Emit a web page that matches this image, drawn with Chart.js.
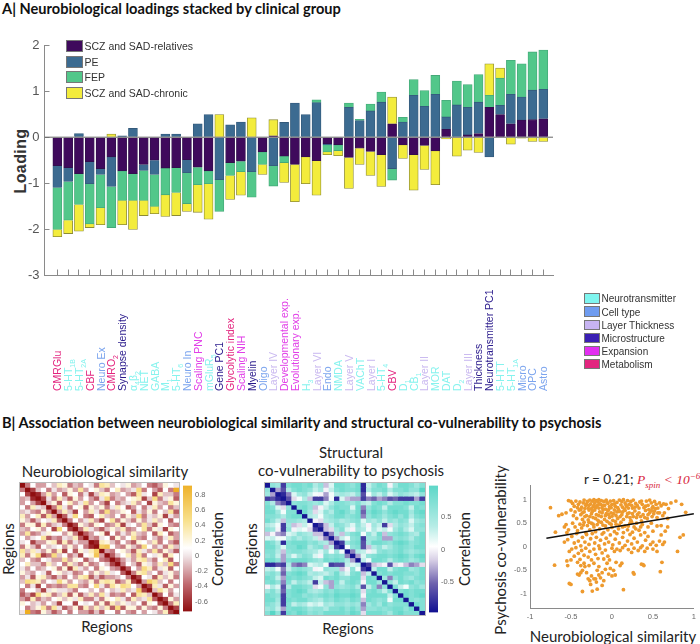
<!DOCTYPE html>
<html>
<head>
<meta charset="utf-8">
<script src="https://cdn.jsdelivr.net/npm/chart.js@4"></script>
<style>
  html, body { margin: 0; padding: 0; background: #fff; }
  #page { position: relative; width: 700px; height: 644px; overflow: hidden; font-family: "Liberation Sans", sans-serif; }
  canvas { position: absolute; }
  .t { position: absolute; white-space: nowrap; transform: translate(-50%, -50%); font-family: Lato, sans-serif; font-size: 15px; color: #222; }
  .r { transform: translate(-50%, -50%) rotate(-90deg); }
  .head { transform: translateY(-50%); font-weight: 700; font-size: 14.6px; color: #111; }
  .sw { position: absolute; box-sizing: border-box; border: 1px solid #777; }
  .lg { position: absolute; white-space: nowrap; transform: translateY(-50%); color: #333; }
</style>
</head>
<body>
<div id="page">
  <div class="t head" style="left:2px;top:8px">A| Neurobiological loadings stacked by clinical group</div>
  <div class="t head" style="left:2px;top:422px">B| Association between neurobiological similarity and structural co-vulnerability to psychosis</div>
  <div class="t r" style="left:21px;top:161px;font:700 16px 'Liberation Sans';letter-spacing:.4px;color:#333">Loading</div>

  <div class="t" style="left:105px;top:471px">Neurobiological similarity</div>
  <div class="t" style="left:107px;top:626px">Regions</div>
  <div class="t r" style="left:8px;top:549px">Regions</div>
  <div class="t r" style="left:217px;top:549px">Correlation</div>

  <div class="t" style="left:351px;top:452px">Structural</div>
  <div class="t" style="left:351px;top:470px">co-vulnerability to psychosis</div>
  <div class="t" style="left:348px;top:628px">Regions</div>
  <div class="t r" style="left:251px;top:549px">Regions</div>
  <div class="t r" style="left:464px;top:549px">Correlation</div>

  <div class="t r" style="left:500px;top:550px">Psychosis co-vulnerability</div>
  <div class="t" style="left:613px;top:636px">Neurobiological similarity</div>
  <div class="t" style="left:584px;top:480px;transform:translateY(-50%);font-size:13.5px">r = 0.21; <span style="color:#d81e3a;font-family:'Liberation Serif';font-style:italic">P<sub style="font-size:9px">spin</sub> &lt; 10<sup style="font-size:9px">−6</sup></span></div>
</div>
<script>
// A: loadings per tick, one value per clinical group
const tickLabels = ['CMRGlu','5-HT_1B','5-HT_2A','CBF','Neuro Ex','CMRO_2','Synapse density','α_4β_2','NET','GABA','M_1','5-HT_6','Neuro In','Scaling PNC','mGluR_5','Gene PC1','Glycolytic index','Scaling NIH','Myelin','Oligo','Layer IV','Developmental exp.','Evolutionary exp.','H_3','Layer VI','Endo','NMDA','Layer V','VAChT','Layer I','5-HT_4','CBV','D_1','CB_1','Layer II','MOR','DAT','D_2','Layer III','Thickness','Neurotransmitter PC1','5-HTT','5-HT_1A','Micro','OPC','Astro'];
const tickGroups = [5,0,0,5,1,5,3,0,0,0,0,0,1,4,0,3,5,4,3,1,2,4,4,0,2,1,0,2,0,2,0,5,0,0,2,0,0,0,2,3,3,0,0,1,1,1];

const relatives = [-.62,-.66,-.79,-.53,-.68,-.43,-.73,-.79,-.59,-.50,-.67,-.66,-.49,-.65,-.73,0,-.55,-.52,0,-.32,.03,-.41,-.59,-.43,-.51,-.14,-.16,-.44,-.24,-.31,-.38,.29,-.17,-.38,-.18,-.30,.17,0,.05,.08,.65,.49,.29,.37,.38,.40];
const pe = [-.47,-.30,.08,-.48,-.13,-.64,.03,.19,-.13,-.31,.07,.07,-.28,.29,.49,-.92,.27,.33,-.75,0,-.62,.32,.74,.49,.75,-.03,-.01,.65,.36,.57,.76,-.68,.33,.91,.67,.93,.27,.70,.60,.68,-.43,.20,.64,.50,.64,.64];
const fep = [-.91,-.84,-.67,-.87,-.72,-.89,-.64,-.58,-.65,-.69,-.58,-.54,-.67,-.38,-.28,-.69,-.28,-.23,-.55,-.27,-.44,-.14,0,0,.06,-.15,-.12,.09,.03,.15,.22,-.25,.10,.34,.34,.41,.36,.52,.49,.60,.26,.59,.74,.72,.83,.85];
const chronic = [-.16,-.29,-.58,-.08,-.37,.07,-.53,-.63,-.33,-.16,-.47,-.50,-.17,-.60,-.77,.49,-.52,-.51,.42,-.22,.35,-.43,-.81,-.58,-.75,-.06,-.11,-.67,-.35,-.52,-.69,.58,-.29,-.77,-.52,-.73,-.04,-.41,-.28,-.33,.68,.22,-.15,-.02,-.09,-.09];
const seriesNames = ['SCZ and SAD-relatives','PE','FEP','SCZ and SAD-chronic'];
const seriesColors = ['#3f0a5c','#3c6b91','#52c78a','#f3ec3c'];
const seriesBorders = ['#30104a','#33597a','#45a878','#8c8a35'];
const loadingTicks = [2,1,0,-1,-2,-3];

const groupNames = ['Neurotransmitter','Cell type','Layer Thickness','Microstructure','Expansion','Metabolism'];
const groupColors = ['#7ff5ef','#6f9cf0','#c7b4f2','#3a1fb4','#e22ef0','#e3257f'];
const groupText = ['#86f3ee','#7ba4ee','#c9b8f0','#2a1a8c','#e13fe8','#e3257f'];

// B: correlation matrices in tenths, upper triangle read row by row
const similarity = [
[-7,-3,1,-2,-2,1,-1,3,2,-3,-1,-2,1,0,-3,4,3,-1,1,0,2,-2,-1,1,-3,-4,-2,2,1,0],
[-7,-5,-1,1,-3,0,-2,-1,2,-2,4,-2,1,2,-1,-3,1,3,-2,-1,0,5,-3,1,-2,-4,1,-3],
[-7,-6,-2,3,-2,1,-4,2,1,-3,0,-5,-1,3,2,-2,-1,1,-2,-4,4,0,1,-5,3,-1,-1,-3],
[-7,-5,0,-3,3,-1,-4,2,-2,1,-2,-4,0,5,-3,-1,-2,1,2,3,-5,-1,5,-3,0,2,-4],
[-7,-1,2,-4,1,3,-2,0,4,-2,1,-2,-5,1,-3,-1,0,3,-2,1,-5,2,-1,-2,4,2],
[-7,-3,4,0,-3,1,2,-4,2,-1,2,-3,0,3,1,-4,-2,1,-3,0,3,-2,1,-3,-1],
[-7,-2,3,-1,-5,1,-2,3,0,-3,5,-2,-1,2,1,-4,0,-2,2,-3,1,-1,4,-4],
[-7,-4,0,5,1,-3,-4,1,3,-1,-2,1,-3,2,-1,5,-3,0,-1,2,-5,0,-2],
[-7,-3,1,-2,0,3,-2,-5,1,4,-3,2,-1,-3,2,-2,0,3,-1,1,-4,1],
[-7,-5,2,-1,-3,2,1,-3,-2,3,-5,0,1,-2,4,-1,-4,2,1,-2,-3],
[-7,-3,3,0,-2,-4,-1,2,-1,3,-3,-2,1,4,-3,2,0,-5,2,1],
[-7,-4,-2,1,2,-5,1,-3,0,-2,3,-1,-2,1,-4,3,1,-4,-2],
[-7,-2,-3,0,1,-4,2,-2,1,4,-2,-3,1,-1,-3,0,3,-2],
[-7,-6,3,2,-1,-3,1,-2,-4,2,1,-1,3,-3,1,-2,-4],
[-7,6,7,1,-2,-3,2,-1,-3,5,1,-2,0,-3,3,-1],
[-7,-2,-3,1,2,-1,-4,3,0,-2,4,-3,2,-1,-4],
[-7,-4,-1,1,3,-2,4,-3,1,0,2,-4,3,1],
[-7,-5,-2,0,-2,3,4,-1,-3,1,3,-4,1],
[-7,-3,1,-1,-4,2,0,-2,3,-1,5,-3],
[-7,-4,1,-2,5,3,-3,0,2,-4,1],
[-7,-3,3,4,-1,1,-3,0,2,-2],
[-7,-5,1,0,-4,3,-1,2,-3],
[-7,-2,6,4,-1,1,-3,1],
[-7,-5,3,0,-4,2,-2],
[-7,-1,4,2,-2,1],
[-7,-4,1,-3,0],
[-7,-5,2,-2],
[-7,-3,3],
[-7,-5],
[-7]];
const covulnerability = [
[-9,6,5,-7,7,8,8,7,8,4,6,-2,2,8,8,7,6,8,-8,3,6,8,7,0,5,8,8,7,5,7],
[-9,-3,-6,4,7,8,7,6,3,5,0,3,7,8,7,7,8,-8,4,7,7,8,4,7,7,8,6,6],
[-9,-8,-4,2,5,6,3,1,0,-3,1,4,5,4,3,6,-6,1,5,3,6,2,4,6,5,4,3,6],
[-9,-6,-1,1,4,-2,-7,-7,-4,1,-8,2,-2,-3,-3,-7,-4,-5,-3,-4,-6,-5,-7,-7,-7,-3,-7],
[-9,6,7,7,6,5,6,2,4,7,7,6,5,7,4,3,7,8,7,4,7,7,8,7,7,8],
[-9,7,8,6,-2,0,3,6,8,7,7,2,8,-4,6,8,7,3,8,8,8,7,3,8,7],
[-9,8,5,-1,2,6,4,8,9,7,5,8,-5,7,9,8,6,8,9,8,8,5,8,9],
[-9,4,3,1,5,6,8,8,6,7,8,-4,6,8,7,5,7,8,6,8,4,7,8],
[-9,0,-1,4,5,6,4,5,6,7,2,5,4,6,3,6,5,7,6,2,5,6],
[-9,-7,-2,3,7,6,4,2,6,3,0,5,3,-7,-1,4,6,5,3,6,7],
[-9,-2,-1,5,7,2,0,5,4,1,4,2,3,1,5,7,4,2,6,6],
[-9,-4,4,-2,5,7,8,1,6,3,8,-2,6,7,8,7,5,4,8],
[-9,-3,3,1,6,7,-7,5,5,7,-3,-3,6,7,6,4,7,8],
[-9,-7,5,7,8,-6,5,8,8,7,6,8,9,8,6,7,8],
[-9,1,6,7,-6,-2,4,6,3,5,7,8,7,6,8,8],
[-9,-4,4,3,0,2,6,7,6,7,8,6,5,6,7],
[-9,-3,2,6,7,8,8,7,8,9,8,6,8,9],
[-9,3,1,8,8,7,4,7,8,7,5,6,8],
[-9,-7,-2,-1,0,-6,-1,0,-2,-4,-3,-1],
[-9,3,8,8,3,7,8,8,5,6,8],
[-9,7,8,7,8,8,7,7,6,8],
[-9,5,-4,6,8,6,5,7,8],
[-9,6,3,8,7,8,6,7],
[-9,7,3,1,6,7,5],
[-9,7,8,7,8,8],
[-9,8,7,8,9],
[-9,7,6,7],
[-9,8,7],
[-9,7],
[-9]];
const similarityStops = [[-.73,'#8b0608'],[-.35,'#c06a70'],[0,'#f0e4e6'],[.1,'#ffffff'],[.45,'#f8e08c'],[.92,'#eeae22']];
const covulnerabilityStops = [[-.97,'#08088e'],[-.5,'#6e62ae'],[-.15,'#d8d0e6'],[.05,'#ffffff'],[.35,'#b6ece6'],[.99,'#58d6c6']];

// scatter: [similarity, co-vulnerability]
const regionPairs = [
[-.53,.98],[-.5,.96],[-.48,.92],[-.46,.86],[-.44,.97],[-.41,.9],[-.39,.95],[-.37,.84],[-.35,.93],[-.34,.99],[-.32,.88],[-.3,.96],[-.29,.82],[-.27,.99],[-.26,.91],[-.24,.97],[-.23,.85],[-.22,1],[-.21,.93],[-.19,.98],[-.18,.87],[-.17,.95],[-.16,1],[-.14,.9],[-.13,.98],[-.12,.83],[-.1,.96],[-.09,.88],[-.07,.99],[-.05,.92],[-.03,.85],[-.02,.97],[0,.9],[.02,.98],[.04,.86],[.06,.94],[.09,.99],[.11,.89],[.12,.96],[.14,1],[.16,.93],[.18,.85],[.19,.98],[.21,.9],[.23,.96],[.25,.82],[.26,.99],[.29,.92],[.31,.87],[.34,.95],[.37,.9],[.39,.83],[.42,.97],[.44,.88],[.46,.99],[.48,.93],[.5,.85],[.52,.96],[.54,.9],[.56,.82],[.58,.93],[.6,.87],[.63,.91],[.66,.9],[.69,.81],[.72,.93],[.78,.97],[.85,.9],
[-.56,.72],[-.5,.78],[-.47,.66],[-.45,.74],[-.43,.6],[-.4,.78],[-.38,.68],[-.36,.58],[-.34,.74],[-.31,.66],[-.29,.57],[-.28,.78],[-.25,.7],[-.23,.62],[-.21,.78],[-.19,.68],[-.17,.56],[-.15,.74],[-.13,.64],[-.11,.78],[-.09,.58],[-.07,.7],[-.05,.76],[-.03,.62],[-.01,.72],[.01,.56],[.03,.78],[.05,.66],[.07,.6],[.09,.75],[.12,.68],[.14,.58],[.16,.77],[.18,.64],[.21,.72],[.23,.56],[.25,.7],[.28,.76],[.3,.62],[.33,.72],[.36,.55],[.38,.68],[.41,.77],[.43,.6],[.46,.72],[.49,.64],[.52,.76],[.55,.62],[.58,.72],[.62,.66],[.64,.72],[.68,.6],
[-.42,.83],[-.38,.79],[-.33,.81],[-.31,.91],[-.28,.88],[-.25,.81],[-.22,.88],[-.2,.83],[-.16,.82],[-.15,.91],[-.11,.88],[-.08,.8],[-.06,.94],[-.04,.79],[-.01,.83],[.03,.91],[.07,.83],[.08,.79],[.13,.84],[.15,.8],[.17,.89],[.2,.82],[.24,.88],[.28,.84],[.33,.82],[.36,.97],[.41,.86],[.45,.79],[.49,.82],[.53,.81],[-.36,.72],[-.33,.64],[-.27,.64],[-.24,.75],[-.2,.6],[-.16,.66],[-.12,.72],[-.08,.66],[-.04,.68],[0,.65],[.02,.7],[.06,.74],[.1,.64],[.13,.74],[.19,.7],[.22,.62],[.26,.64],[.31,.68],[.35,.64],[.4,.62],[.44,.68],[.48,.76],[.51,.7],[.56,.72],
[-.35,.46],[-.28,.52],[-.23,.48],[-.16,.53],[-.11,.46],[-.06,.54],[-.01,.48],[.04,.54],[.09,.46],[.13,.42],[.2,.44],[.24,.52],[.29,.38],[.35,.42],
[-.58,.42],[-.56,.47],[-.53,.36],[-.48,.5],[-.45,.42],[-.42,.34],[-.39,.48],[-.37,.4],[-.34,.52],[-.32,.3],[-.3,.45],[-.27,.36],[-.25,.5],[-.22,.42],[-.2,.32],[-.18,.47],[-.15,.38],[-.13,.52],[-.1,.3],[-.08,.44],[-.05,.36],[-.03,.5],[0,.41],[.03,.32],[.05,.48],[.08,.38],[.11,.52],[.14,.3],[.16,.44],[.19,.36],[.22,.5],[.25,.31],[.27,.42],[.3,.5],[.33,.35],[.37,.47],[.4,.3],[.44,.42],[.48,.5],[.5,.33],[.55,.44],[.6,.45],[.65,.33],[.68,.42],
[-.55,.3],[-.58,.1],[-.54,.15],[-.49,.22],[-.46,.08],[-.43,.28],[-.41,.12],[-.38,.02],[-.36,.2],[-.33,.1],[-.31,.26],[-.28,.05],[-.26,.17],[-.24,.28],[-.21,.08],[-.19,.2],[-.16,.02],[-.14,.14],[-.12,.27],[-.09,.06],[-.07,.18],[-.04,.1],[-.02,.25],[.01,.04],[.04,.16],[.06,.28],[.09,.08],[.13,.2],[.16,.03],[.19,.12],[.22,.26],[.24,.06],[.27,.18],[.31,.1],[.35,.25],[.37,.02],[.41,.14],[.44,.22],[.47,.05],[.5,.1],[.54,.03],[.58,.12],[.6,.25],[.62,.05],[.64,.1],
[-.52,-.1],[-.49,-.05],[-.46,-.2],[-.44,-.02],[-.41,-.14],[-.39,-.27],[-.37,-.08],[-.34,-.18],[-.32,-.03],[-.29,-.22],[-.27,-.1],[-.25,-.28],[-.22,-.05],[-.2,-.16],[-.17,-.25],[-.15,-.04],[-.12,-.13],[-.1,-.26],[-.08,-.07],[-.05,-.2],[-.03,-.28],[0,-.03],[.03,-.1],[.06,-.05],[.1,-.08],[.13,-.02],[.2,-.06],[.24,-.12],[.27,-.03],[.32,-.08],[.35,-.02],[.4,-.1],[.43,-.03],[.5,-.05],[.55,-.1],[-.55,-.3],[-.5,-.28],[-.54,-.4],
[-.42,-.33],[-.38,-.4],[-.36,-.5],[-.34,-.35],[-.42,-.58],[-.4,-.6],[-.38,-.55],[-.33,-.42],[-.31,-.55],[-.28,-.4],[-.25,-.62],[-.22,-.35],[-.2,-.68],[-.18,-.5],[-.16,-.42],[-.14,-.66],[-.12,-.55],[-.1,-.72],[-.08,-.48],[-.06,-.35],[-.04,-.58],[-.02,-.46],[0,-.62],[.02,-.5],[.04,-.6],[.05,-.33],[.1,-.4],[.12,-.35],[-.29,-.68],[-.27,-.72],[-.26,-.8],[-.22,-.68],[-.19,-.75],[-.16,-.6],
[-.5,-.8],[-.52,-.78],[-.36,-.95],[-.24,-.94],[-.18,-.9],[-.12,-.82],[.14,-.91],[.26,-.55],[.27,-.58],[.36,-.37],[.38,-.38],[.39,-.4],[.59,-.53],[.61,-.33],[.8,-.1],[-.7,-.39],[-.69,.31],[-.75,.83],[-.65,.66],[-.61,.69],[.83,.2],[.87,.25],[.9,.73]];
const trendX = [-.8,1];
const trendY = [.18,.7];

const page = document.getElementById('page');
const AXIS_GREY = '#8a8a8a';

function addCanvas(x, y, w, h) {
    const c = document.createElement('canvas');
    c.width = w;
    c.height = h;
    c.style.left = x + 'px';
    c.style.top = y + 'px';
    page.appendChild(c);
    return c;
}

function addLegend(names, colors, left, centers, sw, sh, textLeft, fontSize) {
    names.forEach((name, i) => {
        const box = document.createElement('div');
        box.className = 'sw';
        box.style.cssText = `left:${left}px;top:${centers[i] - sh / 2}px;width:${sw}px;height:${sh}px;background:${colors[i]}`;
        page.appendChild(box);
        const label = document.createElement('div');
        label.className = 'lg';
        label.textContent = name;
        label.style.cssText = `left:${textLeft}px;top:${centers[i]}px;font-size:${fontSize}px`;
        page.appendChild(label);
    });
}

function hexToRgb(hex) {
    return [1, 3, 5].map(i => parseInt(hex.slice(i, i + 2), 16));
}

function colorAt(stops, v) {
    if (v <= stops[0][0]) return stops[0][1];
    for (let i = 1; i < stops.length; i++) {
        if (v <= stops[i][0]) {
            const f = (v - stops[i - 1][0]) / (stops[i][0] - stops[i - 1][0]);
            const a = hexToRgb(stops[i - 1][1]);
            const b = hexToRgb(stops[i][1]);
            return `rgb(${a.map((c, k) => Math.round(c + (b[k] - c) * f)).join(',')})`;
        }
    }
    return stops[stops.length - 1][1];
}

// vertical rotated tick labels, all starting from the same baseline
const sideLabels = {
    id: 'sideLabels',
    afterDraw(chart) {
        const ctx = chart.ctx;
        const scale = chart.scales.x;
        tickLabels.forEach((label, i) => {
            ctx.save();
            ctx.translate(scale.getPixelForValue(i + 1) + 4, 391);
            ctx.rotate(-Math.PI / 2);
            ctx.fillStyle = groupText[tickGroups[i]];
            ctx.textBaseline = 'alphabetic';
            ctx.textAlign = 'left';
            let x = 0;
            label.split(/_(\d+[AB]?)/).forEach((part, k) => {
                const isSub = k % 2 === 1;
                ctx.font = (isSub ? 7 : 10.5) + 'px "Liberation Sans"';
                ctx.fillText(part, x, isSub ? 3 : 0);
                x += ctx.measureText(part).width;
            });
            ctx.restore();
        });
    }
};

function drawLoadings() {
    const values = [relatives, pe, fep, chronic];
    const datasets = values.map((vals, s) => ({
        label: seriesNames[s],
        data: vals.map((v, i) => ({ x: i + 1, y: v })),
        backgroundColor: seriesColors[s],
        borderColor: seriesBorders[s],
        borderWidth: 0.8,
        barThickness: 9,
        grouped: false,
        order: 2
    }));
    datasets.push({
        type: 'line',
        label: 'zero',
        data: [{ x: -.19, y: 0 }, { x: 46.9, y: 0 }],
        borderColor: '#666',
        borderWidth: 1,
        pointRadius: 0,
        order: 1
    });
    new Chart(addCanvas(0, 0, 700, 400), {
        type: 'bar',
        data: { datasets },
        plugins: [sideLabels],
        options: {
            responsive: false,
            animation: false,
            layout: { padding: { top: 45, right: 147 } },
            plugins: { legend: { display: false }, tooltip: { enabled: false } },
            scales: {
                x: {
                    type: 'linear',
                    offset: false,
                    stacked: true,
                    min: -.19,
                    max: 46.9,
                    afterBuildTicks: s => { s.ticks = s.ticks.filter(t => t.value >= 1 && t.value <= 46); },
                    afterFit: s => { s.height = 124.5; },
                    border: { color: AXIS_GREY },
                    grid: { offset: false, drawOnChartArea: false, tickLength: -6, color: AXIS_GREY },
                    ticks: { stepSize: 1, includeBounds: false, autoSkip: false, display: false }
                },
                y: {
                    stacked: true,
                    min: -3,
                    max: 2,
                    afterFit: s => { s.width = 44.5; },
                    afterBuildTicks: s => { s.ticks = loadingTicks.map(value => ({ value })); },
                    border: { color: AXIS_GREY },
                    grid: { drawOnChartArea: false, tickLength: -5, color: AXIS_GREY },
                    ticks: { padding: 10, color: '#555', font: { family: 'Liberation Sans', size: 13 } }
                }
            }
        }
    });
}

function drawMatrix(x, y, w, h, upper, stops) {
    const n = upper.length;
    const labels = upper.map((row, i) => i + 1);
    const datasets = upper.map((row, r) => ({
        data: labels.map(() => 1),
        backgroundColor: labels.map((l, c) => colorAt(stops, (c >= r ? upper[r][c - r] : upper[c][r - c]) / 10)),
        borderWidth: 0,
        barPercentage: 1,
        categoryPercentage: 1
    }));
    const canvas = addCanvas(x, y, w, h);
    canvas.style.outline = '1px solid #bbb';
    new Chart(canvas, {
        type: 'bar',
        data: { labels, datasets },
        options: {
            responsive: false,
            animation: false,
            plugins: { legend: { display: false }, tooltip: { enabled: false } },
            scales: {
                x: { stacked: true, display: false },
                y: { stacked: true, display: false, reverse: true, min: 0, max: n }
            }
        }
    });
}

function drawColorbar(x, y, w, h, stops, step, digits) {
    const min = stops[0][0];
    const max = stops[stops.length - 1][0];
    const canvas = addCanvas(x, y - 5, w + 20, h + 10);
    const gradient = canvas.getContext('2d').createLinearGradient(0, h + 5, 0, 5);
    stops.forEach(s => gradient.addColorStop((s[0] - min) / (max - min), s[1]));
    new Chart(canvas, {
        type: 'bar',
        data: { labels: [''], datasets: [{ data: [[min, max]], backgroundColor: gradient, barPercentage: 1, categoryPercentage: 1 }] },
        options: {
            responsive: false,
            animation: false,
            layout: { padding: { top: 5, bottom: 5 } },
            plugins: { legend: { display: false }, tooltip: { enabled: false } },
            scales: {
                x: { display: false },
                y: {
                    position: 'right',
                    min,
                    max,
                    afterFit: s => { s.width = 20; },
                    border: { display: false },
                    grid: { display: false, drawTicks: false },
                    ticks: {
                        stepSize: step,
                        includeBounds: false,
                        padding: 3,
                        color: '#666',
                        font: { family: 'Liberation Sans', size: 7.5 },
                        callback: v => +v.toFixed(digits)
                    }
                }
            }
        }
    });
}

function drawScatter() {
    const tickFont = { family: 'Liberation Sans', size: 7.5 };
    new Chart(addCanvas(510, 478, 190, 146), {
        type: 'scatter',
        data: {
            datasets: [
                {
                    type: 'line',
                    data: trendX.map((x, i) => ({ x, y: trendY[i] })),
                    borderColor: '#111',
                    borderWidth: 1.4,
                    pointRadius: 0,
                    order: 1
                },
                {
                    data: regionPairs.map(p => ({ x: p[0], y: p[1] })),
                    backgroundColor: '#ee9a2e',
                    pointRadius: 1.9,
                    pointBorderWidth: 0,
                    order: 2
                }
            ]
        },
        options: {
            responsive: false,
            animation: false,
            layout: { padding: { top: 5.5, right: 6 } },
            plugins: { legend: { display: false }, tooltip: { enabled: false } },
            scales: {
                x: {
                    min: -1,
                    max: 1,
                    afterFit: s => { s.height = 16; },
                    border: { color: AXIS_GREY },
                    grid: { display: false, drawTicks: false },
                    ticks: { stepSize: .5, padding: 4, maxRotation: 0, color: '#666', font: tickFont, callback: v => +v.toFixed(1) }
                },
                y: {
                    min: -1.3,
                    max: 1.3,
                    afterFit: s => { s.width = 20; },
                    border: { color: AXIS_GREY },
                    grid: { display: false, drawTicks: false },
                    ticks: { stepSize: .5, includeBounds: false, padding: 3, color: '#666', font: tickFont, callback: v => +v.toFixed(1) }
                }
            }
        }
    });
}

drawLoadings();
addLegend(seriesNames, seriesColors, 65.7, [46, 61.7, 77, 93], 17, 12, 84.5, 10.5);
addLegend(groupNames, groupColors, 584, [298.3, 311.7, 325, 338, 351, 364], 16, 10.5, 601.5, 10);

drawMatrix(20, 483, 159, 131, similarity, similarityStops);
drawColorbar(183, 483, 9, 131, similarityStops, .2, 1);
drawMatrix(265, 483, 160, 132, covulnerability, covulnerabilityStops);
drawColorbar(429, 483, 9, 132, covulnerabilityStops, .5, 1);
drawScatter();
</script>
</body>
</html>
